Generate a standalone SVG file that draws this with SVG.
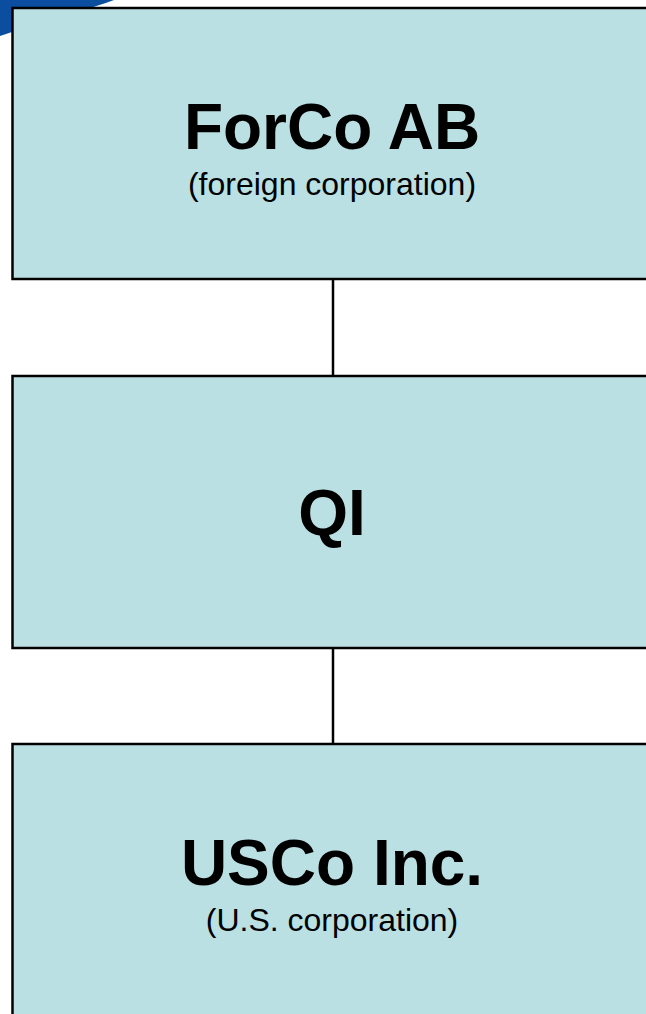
<svg xmlns="http://www.w3.org/2000/svg" width="646" height="1014" viewBox="0 0 646 1014">
<style>
.box{fill:#BAE0E3;stroke:#000;stroke-width:2.5}
.t{font-family:"Liberation Sans",Arial,sans-serif;font-weight:bold;font-size:64px;fill:#000;text-anchor:middle}
.s{font-family:"Liberation Sans",Arial,sans-serif;font-size:32px;fill:#000;text-anchor:middle}
.c{stroke:#000;stroke-width:2.5;fill:none}
</style>
<rect width="646" height="1014" fill="#fff"/>
<path d="M0,0 H114 C94,8 40,22 0,36 Z" fill="#0B4EA0"/>
<g id="connectors">
<line class="c" x1="333" y1="279" x2="333" y2="376"/>
<line class="c" x1="333" y1="648" x2="333" y2="744"/>
</g>
<g id="forco">
<rect class="box" x="12.5" y="8" width="660" height="271"/>
<text class="t" x="332" y="149">ForCo AB</text>
<text class="s" x="332" y="195">(foreign corporation)</text>
</g>
<g id="qi">
<rect class="box" x="12.5" y="376" width="660" height="272"/>
<text class="t" x="332" y="535">QI</text>
</g>
<g id="usco">
<rect class="box" x="12.5" y="744" width="660" height="290"/>
<text class="t" x="332" y="885">USCo Inc.</text>
<text class="s" x="332" y="931">(U.S. corporation)</text>
</g>
</svg>
